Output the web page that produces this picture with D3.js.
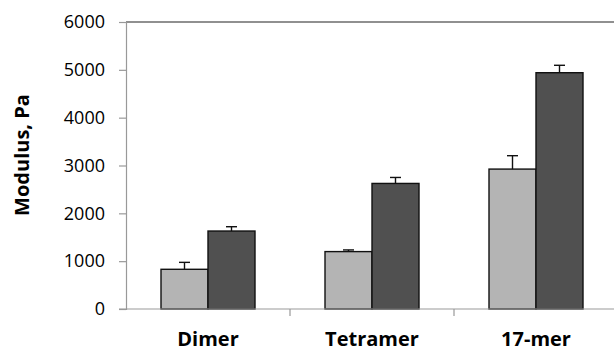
<!DOCTYPE html>
<html><head><meta charset="utf-8">
<script src="https://cdn.jsdelivr.net/npm/d3@7"></script>
<style>body{margin:0;background:#fff}svg{display:block}</style>
</head><body>
<svg id="c" width="614" height="352"></svg>
<script>
const categories = ["Dimer", "Tetramer", "17-mer"];
const seriesNames = ["A", "B"];
const seriesA = [830, 1200, 2925];
const seriesB = [1630, 2625, 4940];
const errA = [145, 35, 280];
const errB = [90, 125, 155];
const yTicks = [0, 1000, 2000, 3000, 4000, 5000, 6000];
const colors = ["#b4b4b4", "#505050"];

const svg = d3.select("#c");
const font = "'Open Sans', sans-serif";
const x = d3.scaleBand().domain(categories).range([126, 618]).paddingInner(0).paddingOuter(0);
const y = d3.scaleLinear().domain([0, 6000]).range([309, 22]);
const barW = 47;

// top border
svg.append("line").attr("x1", 126).attr("x2", 614).attr("y1", y(6000)).attr("y2", y(6000))
  .attr("stroke", "#222").attr("stroke-width", 1.2);

// y axis
const ya = svg.append("g").attr("transform", "translate(126,0)")
  .call(d3.axisLeft(y).tickValues(yTicks).tickSize(7).tickPadding(14).tickFormat(d3.format("d")));
ya.select(".domain").attr("stroke", "#999").attr("stroke-width", 1.2);
ya.selectAll(".tick line").attr("stroke", "#999").attr("stroke-width", 1.2);
ya.selectAll("text").attr("font-family", font).attr("font-size", 18).attr("fill", "#000");

// bars
const data = [seriesA, seriesB];
const errs = [errA, errB];
data.forEach((s, si) => {
  const g = svg.append("g");
  g.selectAll("rect").data(categories).join("rect")
    .attr("x", c => x(c) + x.bandwidth() / 2 - barW + si * barW)
    .attr("y", (c, i) => y(s[i]))
    .attr("width", barW)
    .attr("height", (c, i) => y(0) - y(s[i]))
    .attr("fill", colors[si]).attr("stroke", "#111").attr("stroke-width", 1.4);
  const eg = svg.append("g").attr("stroke", "#111").attr("stroke-width", 1.4);
  categories.forEach((c, i) => {
    const cx = x(c) + x.bandwidth() / 2 - barW / 2 + si * barW;
    eg.append("line").attr("x1", cx).attr("x2", cx).attr("y1", y(s[i])).attr("y2", y(s[i] + errs[si][i]));
    eg.append("line").attr("x1", cx - 5.5).attr("x2", cx + 5.5).attr("y1", y(s[i] + errs[si][i])).attr("y2", y(s[i] + errs[si][i]));
  });
});

// x axis
const xa = svg.append("g").attr("transform", `translate(0,${y(0)})`)
  .call(d3.axisBottom(x).tickSize(0).tickPadding(23));
xa.select(".domain").remove();
svg.append("line").attr("x1", 119).attr("x2", 614).attr("y1", y(0)).attr("y2", y(0)).attr("stroke", "#999").attr("stroke-width", 1.2);
categories.slice(1).forEach(c => {
  svg.append("line").attr("x1", x(c)).attr("x2", x(c)).attr("y1", y(0)).attr("y2", y(0) + 7).attr("stroke", "#999").attr("stroke-width", 1.2);
});
xa.selectAll("text").attr("font-family", font).attr("font-size", 20).attr("font-weight", "bold").attr("fill", "#000");

// y title
svg.append("text").attr("transform", "translate(29,155) rotate(-90)").attr("text-anchor", "middle")
  .attr("font-family", font).attr("font-size", 20).attr("font-weight", "bold").text("Modulus, Pa");
</script>
</body></html>
